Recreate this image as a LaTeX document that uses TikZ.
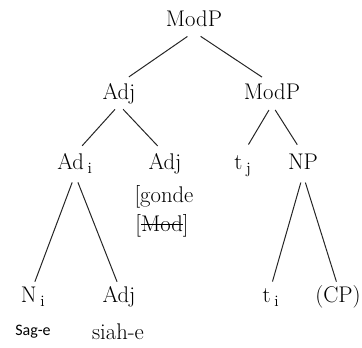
\documentclass[tikz,border=0pt]{standalone}
\usepackage{fontspec}
\newfontfamily\glossfont{Carlito}

\newsavebox\crossbox
\newcommand{\crossout}[1]{\sbox\crossbox{#1}\rlap{\rule[0.3em]{\wd\crossbox}{0.05em}}\usebox\crossbox}

\tikzset{
  lab/.style={anchor=base, inner sep=0pt, text height=12pt, text depth=3.5pt, font=\fontsize{17}{20}\selectfont},
  gloss/.style={anchor=base, inner sep=0pt, font=\fontsize{17}{20}\selectfont},
  tiny gloss/.style={anchor=base, inner sep=0pt, font=\glossfont\fontsize{12}{14}\selectfont},
  branch/.style={draw=black!85, line width=0.75pt, shorten <=6pt, shorten >=9pt}
}

\begin{document}
\begin{tikzpicture}[x=0.75pt,y=0.75pt,yscale=-1,xscale=1]
		\useasboundingbox (0,0) rectangle (362,348);

		% Text Node
		\node[lab] (root) at (194,27) {ModP};
		% Text Node
		\node[lab] (adj) at (119,100) {Adj};
		% Text Node
		\node[lab] (modp) at (272,100) {ModP};
		% Text Node
		\node[lab] (adi) at (75,170) {Ad\,\textsubscript{i}};
		% Text Node
		\node[lab] (adjb) at (165,170) {Adj};
		% Text Node
		\node[gloss] (gonde) at (164,203) {[gonde};
		% Text Node
		\node[gloss] (mod) at (162,232) {[\crossout{Mod}]};
		% Text Node
		\node[lab] (tj) at (243,170) {t\,\textsubscript{j}};
		% Text Node
		\node[lab] (np) at (303,170) {NP};
		% Text Node
		\node[lab] (ni) at (33,303) {N\,\textsubscript{i}};
		% Text Node
		\node[tiny gloss] (sag) at (33,336) {Sag-e};
		% Text Node
		\node[lab] (adjc) at (119,303) {Adj};
		% Text Node
		\node[gloss] (siah) at (118,340) {siah-e};
		% Text Node
		\node[lab] (ti) at (271,303) {t\,\textsubscript{i}};
		% Text Node
		\node[lab] (cp) at (338,303) {(CP)};

		%Straight Lines
		\draw[branch] (root.south) -- (adj.north);
		\draw[branch] (root.south) -- (modp.north);
		%Straight Lines
		\draw[branch, shorten <=4.5pt, shorten >=8pt] (adj.south) -- (adi.north);
		\draw[branch, shorten <=4.5pt, shorten >=8pt] (adj.south) -- (adjb.north);
		\draw[branch, shorten <=4.5pt, shorten >=8pt] (modp.south) -- (tj.north);
		\draw[branch, shorten <=4.5pt, shorten >=8pt] (modp.south) -- (np.north);
		%Straight Lines
		\draw[branch, shorten >=4pt] (adi.south) -- (ni.north);
		\draw[branch, shorten >=4pt] (adi.south) -- (adjc.north);
		\draw[branch, shorten >=4pt] (np.south) -- (ti.north);
		\draw[branch, shorten >=4pt] (np.south) -- (cp.north);

	\end{tikzpicture}
\end{document}
